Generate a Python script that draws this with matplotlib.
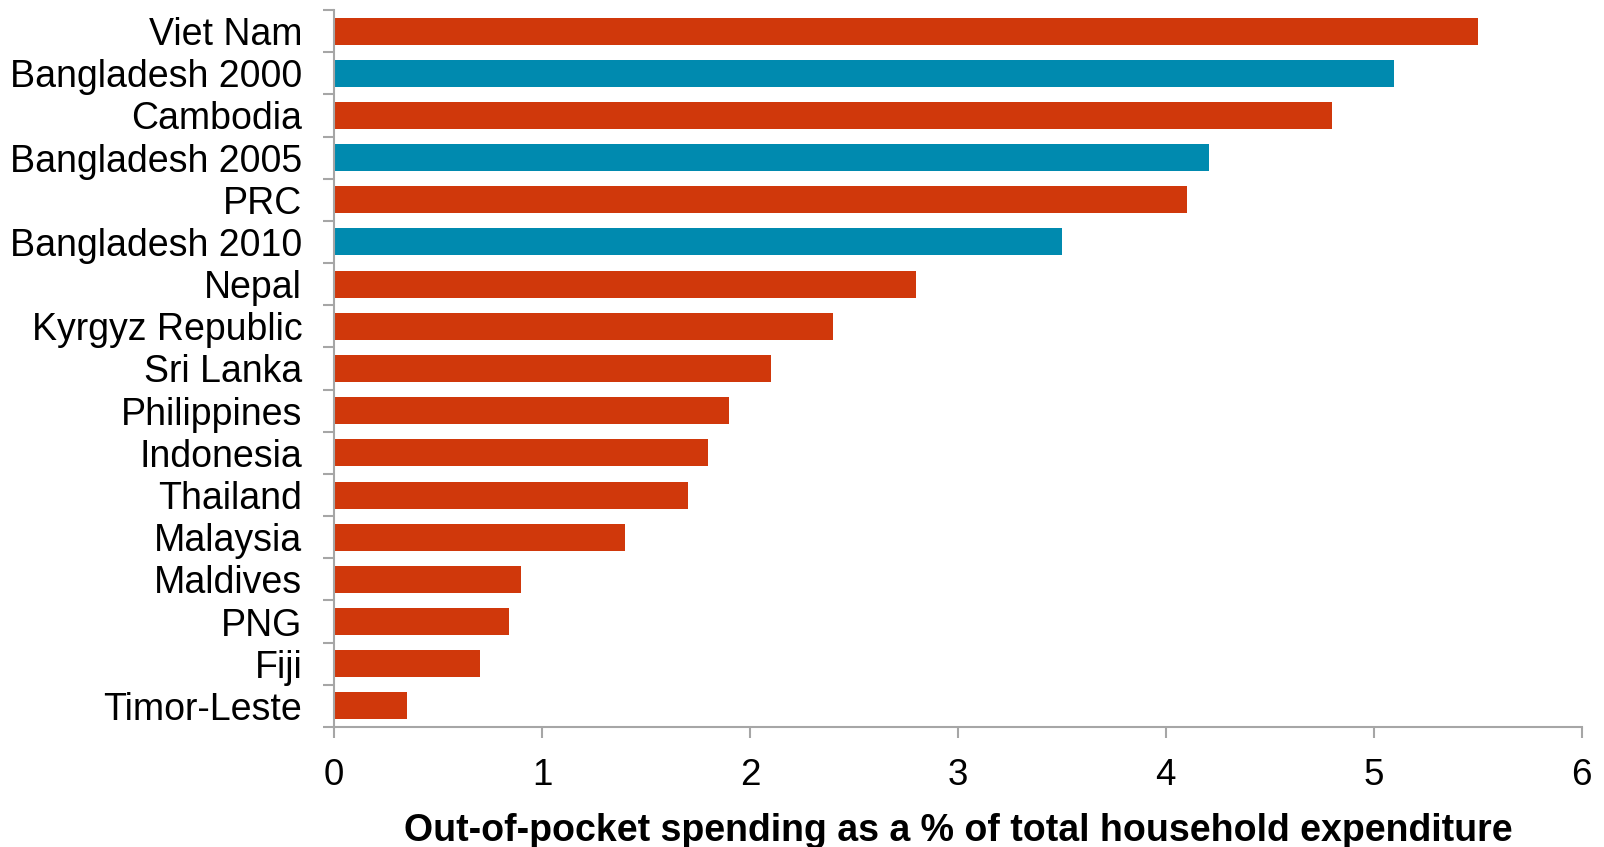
import matplotlib
matplotlib.use("Agg")
import matplotlib.pyplot as plt

countries = ["Viet Nam", "Bangladesh 2000", "Cambodia", "Bangladesh 2005", "PRC",
             "Bangladesh 2010", "Nepal", "Kyrgyz Republic", "Sri Lanka", "Philippines",
             "Indonesia", "Thailand", "Malaysia", "Maldives", "PNG", "Fiji", "Timor-Leste"]
values = [5.5, 5.1, 4.8, 4.21, 4.1, 3.5, 2.8, 2.4, 2.1, 1.9, 1.8, 1.7, 1.4, 0.9, 0.84, 0.7, 0.35]
highlight = ["Bangladesh 2000", "Bangladesh 2005", "Bangladesh 2010"]

RED = "#D0380B"
TEAL = "#008AAF"
GREY = "#A6A6A6"

plt.rcParams["font.family"] = ["Liberation Sans", "DejaVu Sans"]

fig = plt.figure(figsize=(16.04, 8.47), dpi=100)
ax = fig.add_axes([0.2083, 0.1417, 0.7777, 0.8465])

n = len(countries)
ypos = list(range(n))[::-1]
colors = [TEAL if c in highlight else RED for c in countries]
ax.barh(ypos, values, height=0.64, color=colors, zorder=2)

ax.set_xlim(0, 6)
ax.set_ylim(-0.5, n - 0.5)
ax.set_xticks(range(7))
ax.tick_params(axis="x", labelsize=26.5, length=8, width=1.5, color=GREY, pad=14)

# category labels centred on bars, tick marks between categories
ax.set_yticks(ypos)
ax.set_yticklabels(countries)
ax.set_yticks([i - 0.5 for i in range(n + 1)], minor=True)
ax.tick_params(axis="y", which="major", length=0, labelsize=27, pad=23)
ax.tick_params(axis="y", which="minor", length=8, width=1.5, color=GREY)

for side in ["top", "right"]:
    ax.spines[side].set_visible(False)
for side in ["left", "bottom"]:
    ax.spines[side].set_color(GREY)
    ax.spines[side].set_linewidth(1.5)

ax.set_xlabel("Out-of-pocket spending as a % of total household expenditure",
              fontsize=27, fontweight="bold", labelpad=15)

fig.savefig("out.png", dpi=100)
